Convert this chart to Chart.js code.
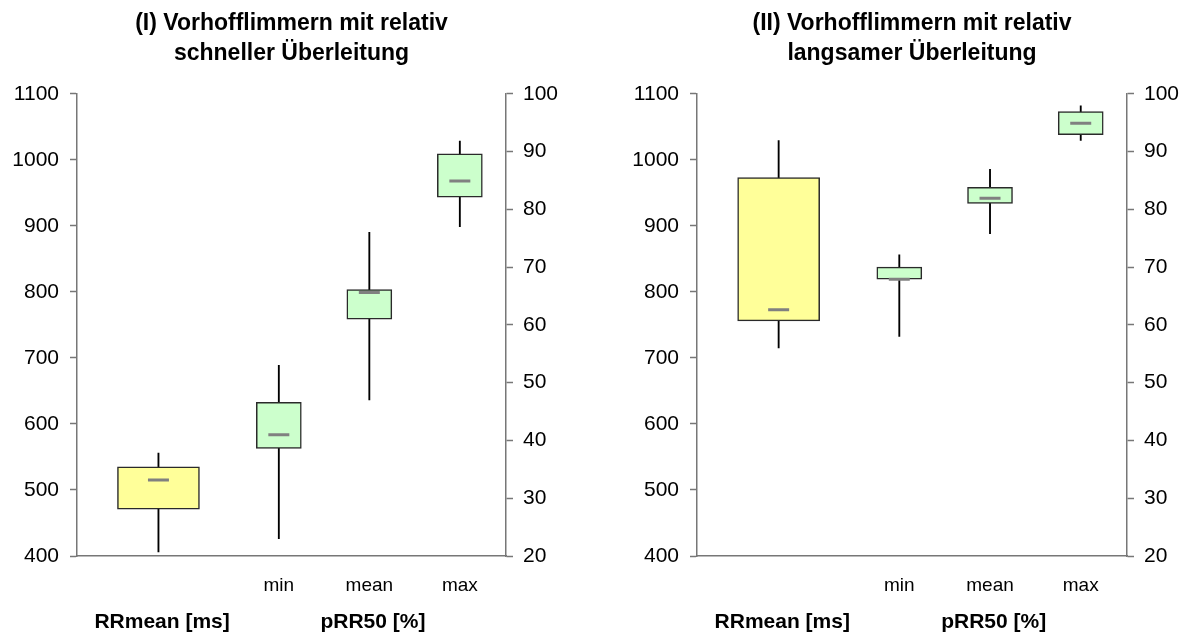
<!DOCTYPE html>
<html>
<head>
<meta charset="utf-8">
<script src="https://cdn.jsdelivr.net/npm/chart.js@4/dist/chart.umd.min.js"></script>
<style>
  html, body { margin: 0; padding: 0; background: #fff; }
  .panel { position: absolute; top: 0; height: 632px; }
  #p1 { left: 0; width: 590px; }
  #p2 { left: 620px; width: 561px; }
</style>
</head>
<body>
<div class="panel" id="p1"><canvas id="chart1"></canvas></div>
<div class="panel" id="p2"><canvas id="chart2"></canvas></div>
<script>
// groups and labels along the bottom
const groupLabels = ["RRmean [ms]", "pRR50 [%]"];
const statLabels = ["min", "mean", "max"];

// box values: [whisker low, q1, median, q3, whisker high]
// (I) fast conduction
const rrFast = [406, 471, 515, 535, 556];
const prFastMin = [23.0, 38.6, 41.0, 46.6, 53.0];
const prFastMean = [47.0, 61.0, 65.6, 66.1, 76.0];
const prFastMax = [77.0, 82.1, 84.9, 89.6, 91.8];

// (II) slow conduction
const rrSlow = [715, 756, 773, 973, 1029];
const prSlowMin = [58.0, 67.9, 67.9, 70.0, 72.1];
const prSlowMean = [75.8, 81.0, 81.9, 83.8, 86.9];
const prSlowMax = [91.9, 92.9, 94.9, 96.9, 97.9];

// axis ranges
const rrTicks = { min: 400, max: 1100, step: 100 };
const prTicks = { min: 20, max: 100, step: 10 };

const font = "'Liberation Sans', Arial, sans-serif";
const axisGray = "#777";
const yellow = "#FFFF99";
const green = "#CCFFCC";

// x layout: RR box at 0, pRR50 stats start after a small gap
const rrX = 0;
const statX = (i) => 1.33 + i;
const xMin = -0.9, xMax = 3.84;

// axis widths per panel
const frames = {
  chart1: { leftW: 77, rightW: 84 },
  chart2: { leftW: 77, rightW: 54 }
};

function buildChart(id, titleLines, rr, stats) {
  const fr = frames[id];
  const whiskRR = [{ x: rrX, y: [rr[0], rr[4]] }];
  const boxRR = [{ x: rrX, y: [rr[1], rr[3]] }];
  const medRR = [{ x: rrX, y: rr[2] }];
  const whiskP = stats.map((s, i) => ({ x: statX(i), y: [s[0], s[4]] }));
  const boxP = stats.map((s, i) => ({ x: statX(i), y: [s[1], s[3]] }));
  const medP = stats.map((s, i) => ({ x: statX(i), y: s[2] }));

  const barBase = {
    type: "bar",
    grouped: false,
    barPercentage: 1,
    categoryPercentage: 1,
    borderSkipped: false
  };

  const medBase = {
    type: "line",
    showLine: false,
    pointStyle: "line",
    pointRadius: 10.5,
    pointHoverRadius: 10.5,
    pointBorderWidth: 3,
    pointBorderColor: "#808080",
    order: 1
  };

  new Chart(document.getElementById(id), {
    type: "bar",
    data: {
      datasets: [
        Object.assign({}, barBase, { data: whiskRR, yAxisID: "yL", backgroundColor: "#000", maxBarThickness: 1.2, borderWidth: 0, order: 3 }),
        Object.assign({}, barBase, { data: whiskP, yAxisID: "yR", backgroundColor: "#000", maxBarThickness: 1.2, borderWidth: 0, order: 3 }),
        Object.assign({}, barBase, { data: boxRR, yAxisID: "yL", backgroundColor: yellow, borderColor: "#2a2a2a", borderWidth: 1.5, maxBarThickness: 82, order: 2 }),
        Object.assign({}, barBase, { data: boxP, yAxisID: "yR", backgroundColor: green, borderColor: "#2a2a2a", borderWidth: 1.5, maxBarThickness: 45, order: 2 }),
        Object.assign({}, medBase, { data: medRR, yAxisID: "yL" }),
        Object.assign({}, medBase, { data: medP, yAxisID: "yR" })
      ]
    },
    options: {
      responsive: true,
      maintainAspectRatio: false,
      animation: false,
      layout: { padding: 0 },
      plugins: {
        legend: { display: false },
        tooltip: { enabled: false },
        title: {
          display: true,
          fullSize: false,
          text: titleLines,
          color: "#000",
          font: { family: font, size: 23, weight: "bold", lineHeight: 1.32 },
          padding: { top: 8, bottom: 25 }
        }
      },
      scales: {
        x: {
          type: "linear",
          position: "bottom",
          offset: false,
          bounds: "data",
          min: xMin,
          max: xMax,
          afterBuildTicks: (s) => { s.ticks = statLabels.map((l, i) => ({ value: statX(i) })); },
          afterFit: (s) => { s.height = 40; },
          ticks: {
            autoSkip: false,
            maxRotation: 0,
            padding: 18,
            color: "#000",
            font: { family: font, size: 19 },
            callback: (v, i) => statLabels[i]
          },
          grid: { display: false, drawTicks: false, offset: false },
          border: { display: true, color: axisGray, width: 1.5 }
        },
        xg: {
          type: "linear",
          position: "bottom",
          offset: false,
          bounds: "data",
          min: xMin,
          max: xMax,
          afterBuildTicks: (s) => { s.ticks = [{ value: rrX + 0.04 }, { value: statX(1) + 0.04 }]; },
          afterFit: (s) => { s.height = 36; },
          ticks: {
            autoSkip: false,
            maxRotation: 0,
            padding: 14,
            color: "#000",
            font: { family: font, size: 21, weight: "bold" },
            callback: (v, i) => groupLabels[i]
          },
          grid: { display: false, drawTicks: false, offset: false },
          border: { display: false }
        },
        yL: {
          position: "left",
          min: rrTicks.min,
          max: rrTicks.max,
          afterFit: (s) => { s.width = fr.leftW; },
          ticks: {
            stepSize: rrTicks.step,
            padding: 11,
            color: "#000",
            font: { family: font, size: 21 },
            callback: (v) => String(v)
          },
          grid: { drawOnChartArea: false, tickLength: 7, color: axisGray, tickWidth: 1.5 },
          border: { color: axisGray, width: 1.5 }
        },
        yR: {
          position: "right",
          min: prTicks.min,
          max: prTicks.max,
          afterFit: (s) => { s.width = fr.rightW; },
          ticks: {
            stepSize: prTicks.step,
            padding: 10,
            color: "#000",
            font: { family: font, size: 21 },
            callback: (v) => String(v)
          },
          grid: { drawOnChartArea: false, tickLength: 7, color: axisGray, tickWidth: 1.5 },
          border: { color: axisGray, width: 1.5 }
        }
      }
    }
  });
}

buildChart("chart1", ["(I) Vorhofflimmern mit relativ", "schneller Überleitung"], rrFast, [prFastMin, prFastMean, prFastMax]);
buildChart("chart2", ["(II) Vorhofflimmern mit relativ", "langsamer Überleitung"], rrSlow, [prSlowMin, prSlowMean, prSlowMax]);
</script>
</body>
</html>
